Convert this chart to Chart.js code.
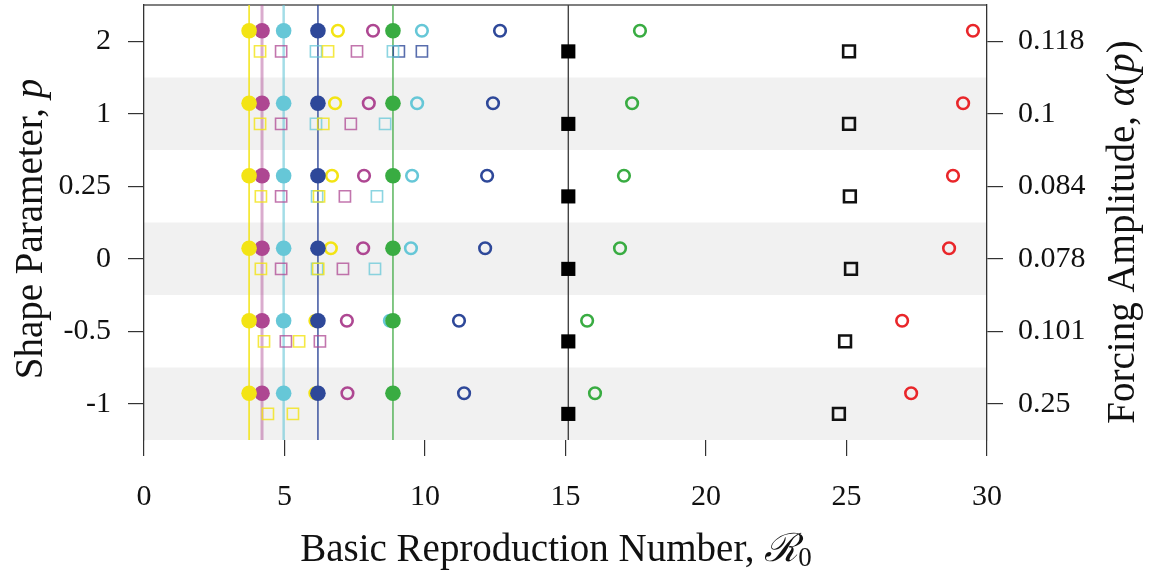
<!DOCTYPE html>
<html>
<head>
<meta charset="utf-8">
<title>Basic Reproduction Number vs Shape Parameter</title>
<script src="https://cdn.jsdelivr.net/npm/chart.js@4.4.1/dist/chart.umd.min.js"></script>
<style>
  html, body { margin: 0; padding: 0; background: #fff; }
  .chart-box { position: relative; width: 1151px; height: 577px; }
</style>
</head>
<body>
<div class="chart-box"><canvas id="r0Chart"></canvas></div>
<script>
/* ================= Dados ================= */
// Linhas de cima para baixo
const shapeLabels = ['2', '1', '0.25', '0', '-0.5', '-1'];
const alphaLabels = ['0.118', '0.1', '0.084', '0.078', '0.101', '0.25'];
const xTickValues = [0, 5, 10, 15, 20, 25, 30];

// R0 de referência (linhas verticais + marcadores cheios)
const baseYellow = 3.74;
const basePink = 4.20;
const baseCyan = 4.97;
const baseBlue = 6.19;
const baseGreen = 8.86;
const baseBlack = 15.1;

// Círculos abertos por linha
const openYellow = [6.90, 6.80, 6.69, 6.65, 6.10, 6.10];
const openPink = [8.15, 8.00, 7.83, 7.80, 7.22, 7.24];
const openCyan = [9.89, 9.72, 9.54, 9.50, 8.75, 8.86];
const openBlue = [12.67, 12.42, 12.21, 12.14, 11.21, 11.39];
const openGreen = [17.65, 17.37, 17.08, 16.94, 15.77, 16.05];
const openRed = [29.50, 29.15, 28.79, 28.65, 26.98, 27.30];

// Quadrados abertos (limites inferior / superior)
const sqLowYellow = [4.13, 4.13, 4.16, 4.16, 4.27, 4.41];
const sqHighYellow = [6.55, 6.38, 6.23, 6.20, 5.52, 5.30];
const sqLowPink = [4.88, 4.88, 4.88, 4.88, 5.05, null];
const sqHighPink = [7.58, 7.36, 7.15, 7.08, 6.26, null];
const sqLowCyan = [6.12, 6.12, 6.16, 6.16, null, null];
const sqHighCyan = [8.86, 8.58, 8.29, 8.22, null, null];
const sqLowBlue = [9.07, null, null, null, null, null];
const sqHighBlue = [9.89, null, null, null, null, null];
const sqBlack = [25.09, 25.09, 25.12, 25.16, 24.95, 24.73];

/* ================= Estilo ================= */
const SERIF = '"Liberation Serif", "DejaVu Serif", serif';
const COLORS = {
  yellow: '#F3E414',
  pink: '#AE4792',
  cyan: '#66C7D7',
  blue: '#2E4899',
  green: '#39AC42',
  red: '#E9262A',
  black: '#000000'
};
const CIRCLE_SHIFT = 0.145;  // deslocamento dentro da faixa
const SQUARE_SHIFT = -0.14;

document.addEventListener('DOMContentLoaded', () => {
  buildChart();
});

function rowIndex(i) {
  return shapeLabels.length - 1 - i;
}

function rowPoints(values, shift) {
  const pts = [];
  values.forEach((v, i) => {
    if (v !== null) pts.push({ x: v, y: rowIndex(i) + shift });
  });
  return pts;
}

function constantPoints(value, shift) {
  return shapeLabels.map((_, i) => ({ x: value, y: rowIndex(i) + shift }));
}

function vLine(value, color, width) {
  return {
    showLine: true, order: 4, pointRadius: 0, borderColor: color, borderWidth: width,
    data: [{ x: value, y: -0.5 }, { x: value, y: 5.5 }]
  };
}

function filledCircles(value, color) {
  return {
    order: 0, data: constantPoints(value, CIRCLE_SHIFT), pointStyle: 'circle',
    pointRadius: 7.8, backgroundColor: color, borderWidth: 0
  };
}

function openCircles(values, color) {
  return {
    order: 1, data: rowPoints(values, CIRCLE_SHIFT), pointStyle: 'circle',
    pointRadius: 5.8, backgroundColor: 'rgba(0,0,0,0)', borderColor: color, borderWidth: 2.6
  };
}

function openSquares(values, color) {
  return {
    order: 2, data: rowPoints(values, SQUARE_SHIFT), pointStyle: 'rect',
    pointRadius: 7.9, backgroundColor: 'rgba(0,0,0,0)', borderColor: color, borderWidth: 1.6
  };
}

function alpha(hex, a) {
  const n = parseInt(hex.slice(1), 16);
  return `rgba(${(n >> 16) & 255}, ${(n >> 8) & 255}, ${n & 255}, ${a})`;
}

// remove o espaço extra que o Chart.js reserva para os rótulos extremos
function noEdgePadding(axis) {
  axis.paddingTop = 0;
  axis.paddingBottom = 0;
  axis.paddingLeft = 0;
  axis.paddingRight = 0;
}

/* ================= Plugins: faixas e títulos ================= */
const bandPlugin = {
  id: 'bands',
  beforeDraw(chart) {
    const { ctx, chartArea, scales } = chart;
    ctx.save();
    ctx.fillStyle = '#F1F1F1';
    shapeLabels.forEach((_, i) => {
      if (i % 2 === 0) return;
      const r = rowIndex(i);
      const top = scales.y.getPixelForValue(r + 0.5);
      const bottom = scales.y.getPixelForValue(r - 0.5);
      ctx.fillRect(chartArea.left, top, chartArea.right - chartArea.left, bottom - top);
    });
    // linha superior da moldura
    ctx.strokeStyle = '#555';
    ctx.lineWidth = 1.3;
    ctx.beginPath();
    ctx.moveTo(chartArea.left, chartArea.top);
    ctx.lineTo(chartArea.right, chartArea.top);
    ctx.stroke();
    ctx.restore();
  }
};

function drawRuns(ctx, runs, cx, cy) {
  let total = 0;
  runs.forEach(r => { ctx.font = r.font; total += ctx.measureText(r.text).width; });
  let x = cx - total / 2;
  runs.forEach(r => {
    ctx.font = r.font;
    ctx.fillText(r.text, x, cy + (r.dy || 0));
    x += ctx.measureText(r.text).width;
  });
}

const titlePlugin = {
  id: 'axisTitles',
  afterDraw(chart) {
    const { ctx } = chart;
    const size = 39;
    const normal = `${size}px ${SERIF}`;
    const italic = `italic ${size}px ${SERIF}`;
    ctx.save();
    ctx.fillStyle = '#111';
    ctx.textBaseline = 'middle';
    ctx.textAlign = 'left';

    drawRuns(ctx, [
      { text: 'Basic Reproduction Number, ', font: normal },
      { text: '\u211B', font: italic },
      { text: '0', font: `${Math.round(size * 0.7)}px ${SERIF}`, dy: 8 }
    ], 556, 551);

    ctx.save();
    ctx.translate(32, 229);
    ctx.rotate(-Math.PI / 2);
    drawRuns(ctx, [
      { text: 'Shape Parameter, ', font: normal },
      { text: 'p', font: italic }
    ], 0, 0);
    ctx.restore();

    ctx.save();
    ctx.translate(1124, 232);
    ctx.rotate(-Math.PI / 2);
    drawRuns(ctx, [
      { text: 'Forcing Amplitude, ', font: normal },
      { text: '\u03B1', font: italic },
      { text: '(', font: normal },
      { text: 'p', font: italic },
      { text: ')', font: normal }
    ], 0, 0);
    ctx.restore();

    ctx.restore();
  }
};

/* ================= Gráfico ================= */
function buildChart() {
  const tickFont = { family: SERIF, size: 30 };

  const datasets = [
    // linhas de referência
    vLine(baseYellow, COLORS.yellow, 1.5),
    vLine(basePink, alpha(COLORS.pink, 0.45), 3),
    vLine(baseCyan, alpha(COLORS.cyan, 0.6), 2.5),
    vLine(baseBlue, COLORS.blue, 1.4),
    vLine(baseGreen, '#4DB051', 1.4),
    vLine(baseBlack, '#444', 1.4),

    // quadrados
    openSquares(sqLowYellow, alpha(COLORS.yellow, 0.8)),
    openSquares(sqHighYellow, alpha(COLORS.yellow, 0.8)),
    openSquares(sqLowPink, alpha(COLORS.pink, 0.75)),
    openSquares(sqHighPink, alpha(COLORS.pink, 0.75)),
    openSquares(sqLowCyan, alpha(COLORS.cyan, 0.75)),
    openSquares(sqHighCyan, alpha(COLORS.cyan, 0.75)),
    openSquares(sqLowBlue, alpha(COLORS.blue, 0.8)),
    openSquares(sqHighBlue, alpha(COLORS.blue, 0.8)),
    {
      order: 2, data: rowPoints(sqBlack, SQUARE_SHIFT), pointStyle: 'rect',
      pointRadius: 8.3, backgroundColor: 'rgba(0,0,0,0)', borderColor: '#111', borderWidth: 2.6
    },
    {
      order: 0, data: constantPoints(baseBlack, SQUARE_SHIFT), pointStyle: 'rect',
      pointRadius: 10, backgroundColor: '#000', borderWidth: 0
    },

    // círculos abertos
    openCircles(openYellow, COLORS.yellow),
    openCircles(openPink, COLORS.pink),
    openCircles(openCyan, COLORS.cyan),
    openCircles(openBlue, COLORS.blue),
    openCircles(openGreen, COLORS.green),
    openCircles(openRed, COLORS.red),

    // círculos cheios (R0 de referência)
    filledCircles(baseYellow, COLORS.yellow),
    filledCircles(basePink, COLORS.pink),
    filledCircles(baseCyan, COLORS.cyan),
    filledCircles(baseBlue, COLORS.blue),
    filledCircles(baseGreen, COLORS.green)
  ];

  new Chart(document.getElementById('r0Chart'), {
    type: 'scatter',
    data: { datasets },
    options: {
      responsive: true,
      maintainAspectRatio: false,
      animation: false,
      layout: { autoPadding: false, padding: { top: 5, left: 0, right: 0, bottom: 0 } },
      plugins: { legend: { display: false }, tooltip: { enabled: false } },
      scales: {
        x: {
          type: 'linear', min: 0, max: 30,
          afterBuildTicks: axis => { axis.ticks = xTickValues.map(v => ({ value: v })); },
          afterFit: axis => { axis.height = 137; noEdgePadding(axis); },
          ticks: { font: tickFont, color: '#111', padding: 23, maxRotation: 0 },
          grid: { drawOnChartArea: false, tickLength: 16, color: '#333', lineWidth: 1.2 },
          border: { display: false }
        },
        y: {
          type: 'linear', position: 'left', min: -0.5, max: 5.5,
          afterBuildTicks: axis => { axis.ticks = shapeLabels.map((_, i) => ({ value: rowIndex(i) })); },
          afterFit: axis => { axis.width = 144; noEdgePadding(axis); },
          ticks: { font: tickFont, color: '#111', padding: 17, callback: v => shapeLabels[rowIndex(v)] },
          grid: { drawOnChartArea: false, tickLength: 16, color: '#333', lineWidth: 1.2 },
          border: { color: '#333', width: 1.3 }
        },
        y2: {
          type: 'linear', position: 'right', min: -0.5, max: 5.5,
          afterBuildTicks: axis => { axis.ticks = alphaLabels.map((_, i) => ({ value: rowIndex(i) })); },
          afterFit: axis => { axis.width = 164; noEdgePadding(axis); },
          ticks: { font: tickFont, color: '#111', padding: 15, callback: v => alphaLabels[rowIndex(v)] },
          grid: { drawOnChartArea: false, tickLength: 16, color: '#333', lineWidth: 1.2 },
          border: { color: '#333', width: 1.3 }
        }
      }
    },
    plugins: [bandPlugin, titlePlugin]
  });
}
</script>
</body>
</html>
